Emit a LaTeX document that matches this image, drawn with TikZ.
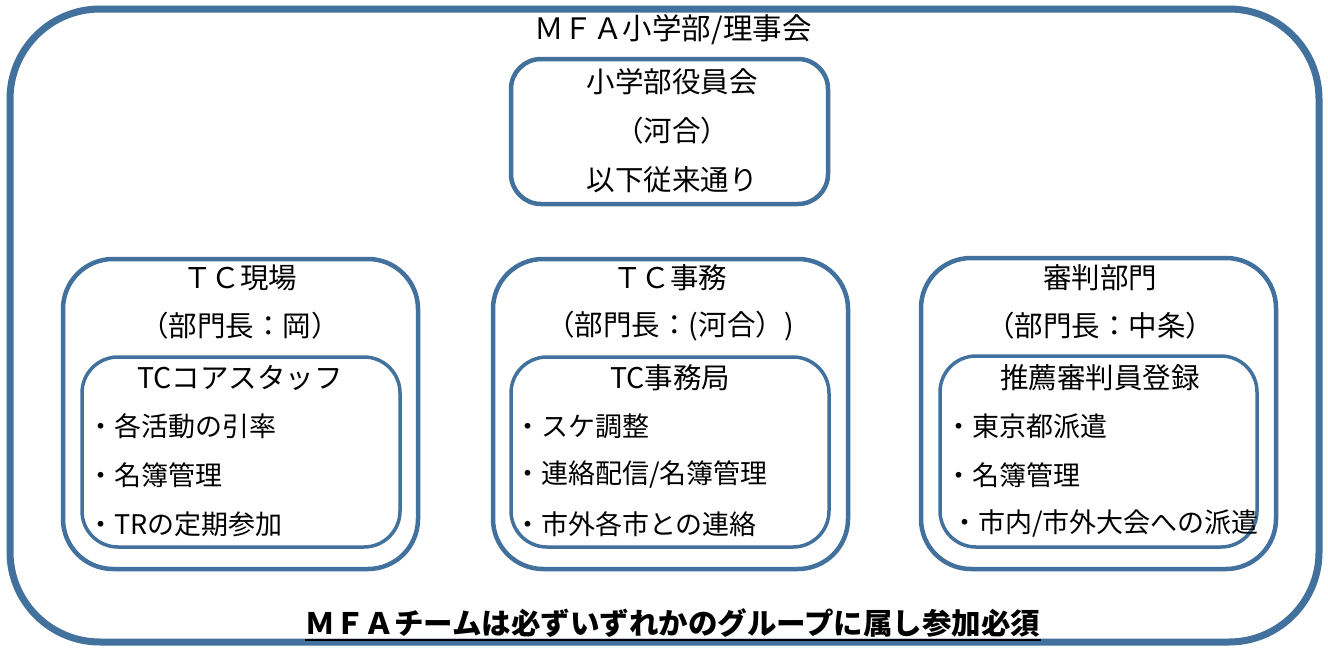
\documentclass[tikz,border=0pt]{standalone}
\usepackage{fontspec}
\setmainfont{Noto Sans CJK JP}
\definecolor{boxblue}{RGB}{65,113,156}
\begin{document}
\begin{tikzpicture}[x=1pt,y=-1pt,
  outerbox/.style={draw=boxblue,line width=7pt,rounded corners=90pt},
  groupbox/.style={draw=boxblue,line width=4.5pt,rounded corners=50pt},
  topbox/.style={draw=boxblue,line width=4.5pt,rounded corners=30pt},
  innerbox/.style={draw=boxblue,line width=3.5pt,rounded corners=36pt},
  txt/.style={font=\fontsize{28.5}{30}\selectfont,inner sep=0pt,text=black},
  itm/.style={font=\fontsize{27}{30}\selectfont,inner sep=0pt,text=black,anchor=west},
  boldtxt/.style={font=\fontsize{29.5}{30}\selectfont\bfseries,inner sep=0pt,text=black}]
\useasboundingbox (0,0) rectangle (1328,648);
\fill[white] (0,0) rectangle (1328,648);
% outer
\draw[outerbox] (10,9) rectangle (1319,642);
\node[txt,font=\fontsize{29.5}{30}\selectfont] (title) at (673,30) {ＭＦＡ小学部/理事会};
% top box
\draw[topbox] (511,59) rectangle (828,204);
\node[txt] (t1) at (672,82) {小学部役員会};
\node[txt] (t2) at (672,131) {（河合）};
\node[txt] (t3) at (672,180) {以下従来通り};
% group boxes
\draw[groupbox] (63,259) rectangle (418,569);
\draw[groupbox] (493,259) rectangle (848,569);
\draw[groupbox] (921,258) rectangle (1276,569);
% inner boxes
\draw[innerbox] (82,357) rectangle (400,547);
\draw[innerbox] (511,357) rectangle (829,547);
\draw[innerbox] (940,356) rectangle (1257,547);
% left
\node[txt] (a1) at (240,278) {ＴＣ現場};
\node[txt] (a2) at (240,326) {（部門長：岡）};
\node[txt] (a3) at (240,378) {TCコアスタッフ};
\node[itm] (a4) at (87,426) {・各活動の引率};
\node[itm] (a5) at (87,475) {・名簿管理};
\node[itm] (a6) at (87,524) {・TRの定期参加};
% middle
\node[txt] (b1) at (670,278) {ＴＣ事務};
\node[txt] (b2) at (670,326) {（部門長：(河合）)};
\node[txt] (b3) at (670,378) {TC事務局};
\node[itm] (b4) at (514,426) {・スケ調整};
\node[itm] (b5) at (514,475) {・連絡配信/名簿管理};
\node[itm] (b6) at (514,524) {・市外各市との連絡};
% right
\node[txt] (c1) at (1100,278) {審判部門};
\node[txt] (c2) at (1100,326) {（部門長：中条）};
\node[txt] (c3) at (1100,378) {推薦審判員登録};
\node[itm] (c4) at (945,426) {・東京都派遣};
\node[itm] (c5) at (945,475) {・名簿管理};
\node[itm] (c6) at (951,524) {・市内/市外大会への派遣};
% bottom
\node[boldtxt] (bt) at (673,623) {ＭＦＡチームは必ずいずれかのグループに属し参加必須};
\draw[line width=2pt] ([yshift=-6pt]bt.base west) -- ([yshift=-6pt]bt.base east);
\end{tikzpicture}
\end{document}
